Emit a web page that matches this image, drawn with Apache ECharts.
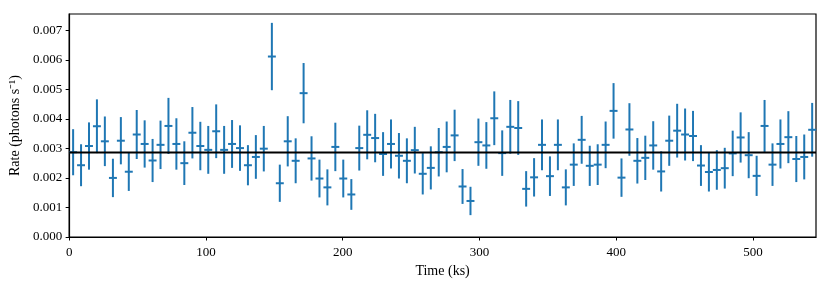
<!DOCTYPE html>
<html>
<head>
<meta charset="utf-8">
<script src="https://cdn.jsdelivr.net/npm/echarts@6/dist/echarts.min.js"></script>
<style>
html,body{margin:0;padding:0;background:#fff;}
#chart{width:831px;height:287px;}
</style>
</head>
<body>
<div id="chart"></div>
<script>
const time = [2.9, 8.7, 14.5, 20.3, 26.1, 32.0, 37.8, 43.6, 49.4, 55.2,
  61.0, 66.8, 72.6, 78.4, 84.2, 90.1, 95.9, 101.7, 107.5, 113.3,
  119.1, 124.9, 130.7, 136.5, 142.3, 148.2, 154.0, 159.8, 165.6, 171.4,
  177.2, 183.0, 188.8, 194.6, 200.4, 206.3, 212.1, 217.9, 223.7, 229.5,
  235.3, 241.1, 246.9, 252.7, 258.5, 264.4, 270.2, 276.0, 281.8, 287.6,
  293.4, 299.2, 305.0, 310.8, 316.6, 322.5, 328.3, 334.1, 339.9, 345.7,
  351.5, 357.3, 363.1, 368.9, 374.7, 380.6, 386.4, 392.2, 398.0, 403.8,
  409.6, 415.4, 421.2, 427.0, 432.8, 438.7, 444.5, 450.3, 456.1, 461.9,
  467.7, 473.5, 479.3, 485.1, 490.9, 496.8, 502.6, 508.4, 514.2, 520.0,
  525.8, 531.6, 537.4, 543.2];
const timeHalfBin = 2.905;
const rate = [0.00287, 0.00243, 0.00308, 0.00375, 0.00324, 0.00200, 0.00326, 0.00221, 0.00347, 0.00315,
  0.00259, 0.00312, 0.00376, 0.00315, 0.00250, 0.00353, 0.00308, 0.00295, 0.00358, 0.00295,
  0.00315, 0.00301, 0.00243, 0.00271, 0.00299, 0.00611, 0.00182, 0.00324, 0.00258, 0.00487,
  0.00266, 0.00198, 0.00168, 0.00305, 0.00198, 0.00144, 0.00301, 0.00346, 0.00335, 0.00281,
  0.00315, 0.00275, 0.00258, 0.00294, 0.00214, 0.00234, 0.00287, 0.00305, 0.00344, 0.00171,
  0.00122, 0.00321, 0.00310, 0.00402, 0.00284, 0.00373, 0.00369, 0.00163, 0.00202, 0.00312,
  0.00206, 0.00312, 0.00168, 0.00245, 0.00329, 0.00241, 0.00245, 0.00312, 0.00427, 0.00201,
  0.00364, 0.00258, 0.00268, 0.00310, 0.00222, 0.00326, 0.00360, 0.00347, 0.00342, 0.00242,
  0.00220, 0.00227, 0.00233, 0.00283, 0.00337, 0.00277, 0.00207, 0.00376, 0.00245, 0.00315,
  0.00338, 0.00264, 0.00271, 0.00363];
const rateErr = [0.00078, 0.00071, 0.00080, 0.00091, 0.00084, 0.00065, 0.00080, 0.00065, 0.00083, 0.00080,
  0.00073, 0.00082, 0.00095, 0.00087, 0.00074, 0.00087, 0.00082, 0.00081, 0.00091, 0.00081,
  0.00081, 0.00077, 0.00068, 0.00074, 0.00077, 0.00114, 0.00063, 0.00085, 0.00076, 0.00102,
  0.00075, 0.00064, 0.00061, 0.00082, 0.00064, 0.00052, 0.00076, 0.00083, 0.00082, 0.00074,
  0.00083, 0.00077, 0.00076, 0.00079, 0.00070, 0.00073, 0.00082, 0.00086, 0.00087, 0.00059,
  0.00048, 0.00080, 0.00079, 0.00091, 0.00077, 0.00091, 0.00091, 0.00060, 0.00065, 0.00086,
  0.00067, 0.00086, 0.00061, 0.00072, 0.00081, 0.00068, 0.00069, 0.00079, 0.00094, 0.00065,
  0.00089, 0.00077, 0.00075, 0.00082, 0.00068, 0.00085, 0.00091, 0.00088, 0.00085, 0.00069,
  0.00066, 0.00067, 0.00069, 0.00077, 0.00085, 0.00078, 0.00068, 0.00088, 0.00072, 0.00083,
  0.00088, 0.00078, 0.00076, 0.00091];
const meanRate = 0.00286;
const xMax = 546;
const yMax = 0.00755;

const data = time.map((t, i) => [t, rate[i], rateErr[i], timeHalfBin]);
const blue = '#1f77b4';
const font = 'Liberation Serif';

const chart = echarts.init(document.getElementById('chart'), null, {renderer: 'canvas'});
chart.setOption({
  animation: false,
  backgroundColor: '#fff',
  grid: {left: 68, right: 15, top: 14, bottom: 50, show: true, borderColor: '#000', borderWidth: 1.2, backgroundColor: 'transparent'},
  xAxis: {
    type: 'value', min: 0, max: xMax, interval: 100,
    name: 'Time (ks)', nameLocation: 'middle', nameGap: 26,
    nameTextStyle: {fontFamily: font, fontSize: 14, color: '#000'},
    axisLine: {show: true, onZero: false, lineStyle: {color: '#000', width: 1.2}},
    axisTick: {show: true, length: 3.5, lineStyle: {color: '#000'}},
    axisLabel: {fontFamily: font, fontSize: 13, color: '#000', margin: 9, showMaxLabel: false},
    splitLine: {show: false}
  },
  yAxis: {
    type: 'value', min: 0, max: yMax, interval: 0.001,
    name: 'Rate (photons s\u207B\u00B9)', nameLocation: 'middle', nameGap: 41,
    nameTextStyle: {fontFamily: font, fontSize: 14, color: '#000'},
    axisLine: {show: true, onZero: false, lineStyle: {color: '#000', width: 1.2}},
    axisTick: {show: true, length: 3.5, lineStyle: {color: '#000'}},
    axisLabel: {fontFamily: font, fontSize: 13, color: '#000', margin: 7, showMaxLabel: false,
      formatter: v => v.toFixed(3)},
    splitLine: {show: false}
  },
  series: [
    {
      type: 'custom',
      data: data,
      z: 2,
      renderItem: function (params, api) {
        const x = api.value(0), y = api.value(1), ye = api.value(2), xe = api.value(3);
        const top = api.coord([x, y + ye]);
        const bot = api.coord([x, y - ye]);
        const l = api.coord([x - xe, y]);
        const r = api.coord([x + xe, y]);
        return {
          type: 'group',
          children: [
            {type: 'line', shape: {x1: top[0], y1: top[1], x2: bot[0], y2: bot[1]}, style: {stroke: blue, lineWidth: 2}},
            {type: 'line', shape: {x1: l[0], y1: l[1], x2: r[0], y2: r[1]}, style: {stroke: blue, lineWidth: 2}}
          ]
        };
      }
    },
    {
      type: 'line',
      data: [[0, meanRate], [xMax, meanRate]],
      symbol: 'none',
      z: 5,
      lineStyle: {color: '#000', width: 2},
      silent: true
    }
  ]
});
</script>
</body>
</html>
